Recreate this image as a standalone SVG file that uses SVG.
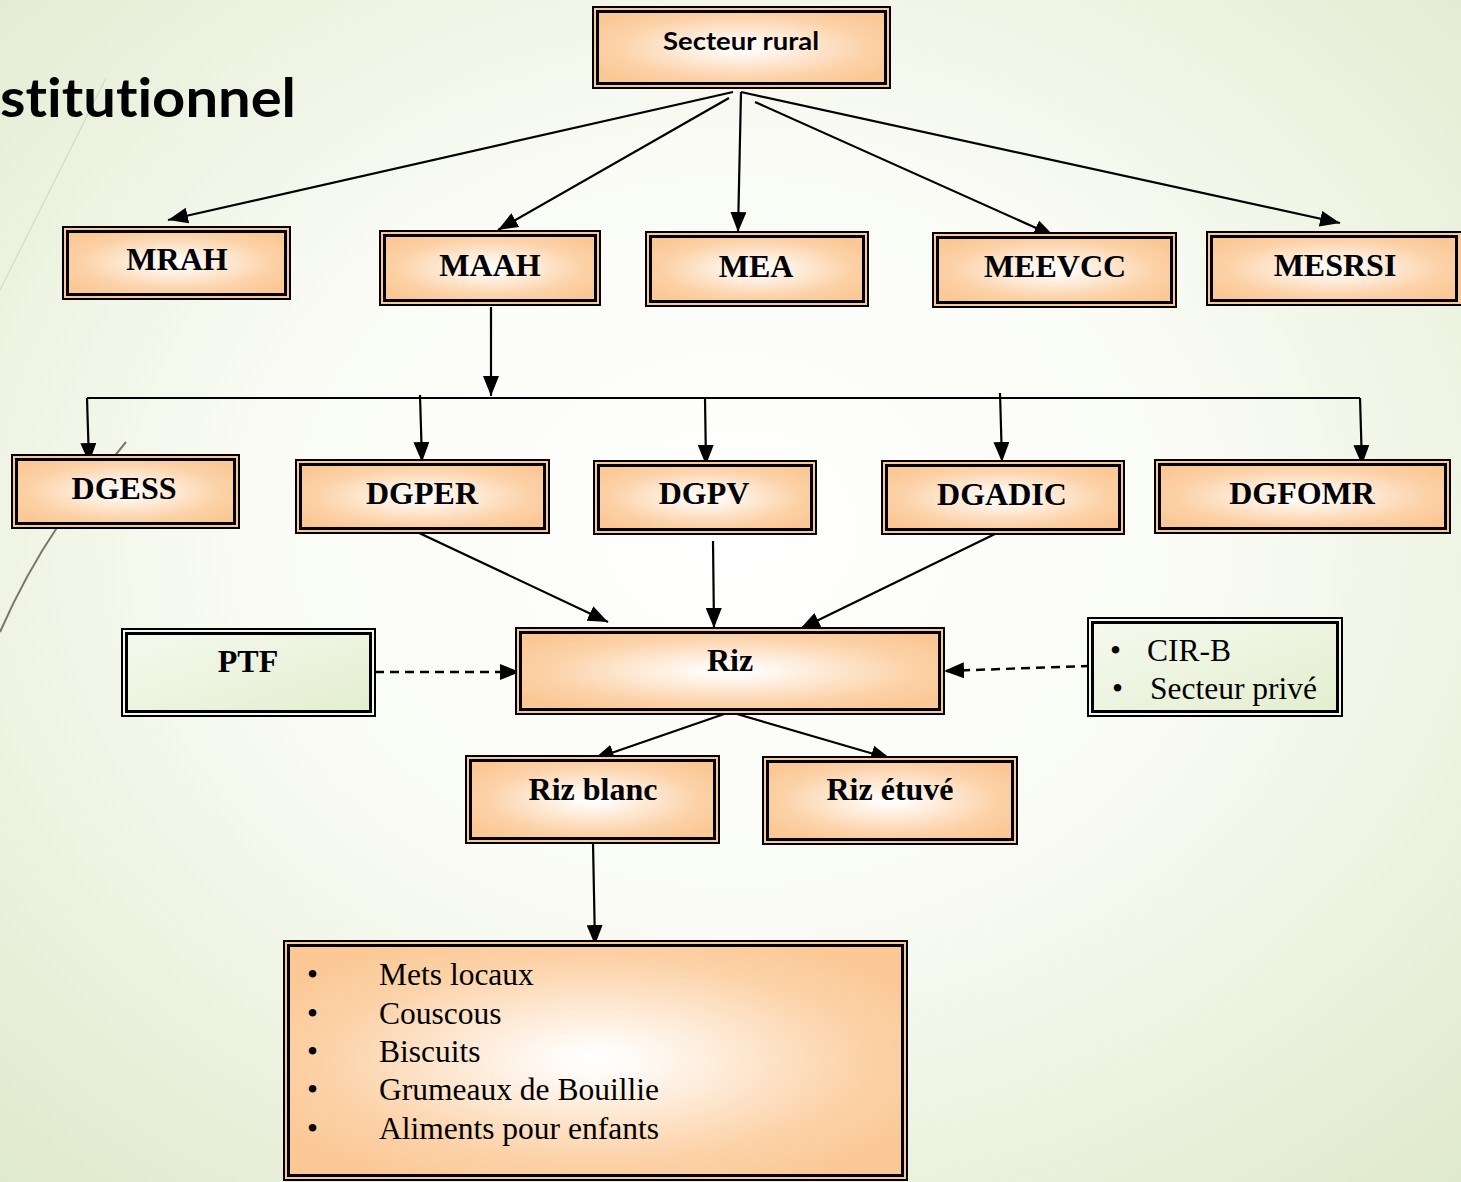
<svg xmlns="http://www.w3.org/2000/svg" width="1461" height="1182" viewBox="0 0 1461 1182">
<defs>
<radialGradient id="bg" cx="0.5" cy="0.45" r="0.75">
<stop offset="0" stop-color="#ffffff"/>
<stop offset="0.45" stop-color="#f9fbf4"/>
<stop offset="1" stop-color="#dfe9cb"/>
</radialGradient>
<radialGradient id="pg" cx="0.5" cy="0.5" r="0.62">
<stop offset="0" stop-color="#ffffff"/>
<stop offset="0.12" stop-color="#fffaf5"/>
<stop offset="0.7" stop-color="#fcd2a8"/>
<stop offset="1" stop-color="#fbc794"/>
</radialGradient>
<linearGradient id="gg" x1="0" y1="0" x2="1" y2="1">
<stop offset="0" stop-color="#f5f9ee"/>
<stop offset="1" stop-color="#e3eecf"/>
</linearGradient>
<marker id="ah" viewBox="0 0 20 16" refX="20" refY="8" markerWidth="20" markerHeight="16" markerUnits="userSpaceOnUse" orient="auto">
<path d="M0,0 L20,8 L0,16 z" fill="#000"/>
</marker>
<style>
.o{fill:#fbc794;stroke:#000;stroke-width:2}
.i{fill:url(#pg);stroke:#000;stroke-width:3}
.og{fill:#f4f8ec;stroke:#000;stroke-width:2}
.ig{fill:url(#gg);stroke:#000;stroke-width:3}
.c{fill:none;stroke:#000;stroke-width:2.2;marker-end:url(#ah)}
.d{fill:none;stroke:#000;stroke-width:2.5;stroke-dasharray:9 6;marker-end:url(#ah)}
.tb{font-family:"Liberation Serif","Times New Roman",serif;font-weight:bold;font-size:32px;text-anchor:middle;fill:#000}
.tr{font-family:"Liberation Serif","Times New Roman",serif;font-size:31.5px;fill:#000}
.sans{font-family:Lato,"Open Sans",sans-serif;font-weight:bold;font-variant-ligatures:none;fill:#000}
</style>
</defs>
<rect x="0" y="0" width="1461" height="1182" fill="url(#bg)"/>
<g id="decor" fill="none">
<line x1="0" y1="290" x2="106" y2="78" stroke="#d6d9cc" stroke-width="1.2"/>
<path d="M126,442 L58,526 Q25,575 0,632" stroke="#7c7765" stroke-width="2"/>
</g>
<text id="title" class="sans" x="0" y="117" font-size="54" textLength="296" lengthAdjust="spacingAndGlyphs">stitutionnel</text>

<g id="connectors">
<path class="c" d="M733,92 L168,220"/>
<path class="c" d="M729,98 L498,230"/>
<path class="c" d="M741,92 L738,232"/>
<path class="c" d="M755,102 L1054,236"/>
<path class="c" d="M741,92 L1340,223"/>
<path class="c" d="M491,307 L491,396"/>
<path d="M87,398 L1360,398" fill="none" stroke="#000" stroke-width="1.8"/>
<path class="c" d="M87,398 L89,463"/>
<path class="c" d="M420,395 L422,462"/>
<path class="c" d="M705,398 L706,465"/>
<path class="c" d="M1000,393 L1002,462"/>
<path class="c" d="M1360,398 L1362,465"/>
<path class="c" d="M417,532 L608,622"/>
<path class="c" d="M713,541 L714,628"/>
<path class="c" d="M999,532 L800,629"/>
<path class="d" d="M375,672 L520,672"/>
<path class="d" d="M1090,666 L944,671"/>
<path class="c" d="M730,712 L594,759"/>
<path class="c" d="M730,712 L891,759"/>
<path class="c" d="M593,843 L595,945"/>
</g>

<g id="secteur-rural">
<rect class="o" x="593" y="7" width="297" height="81"/>
<rect class="i" x="597.5" y="11.5" width="288" height="72"/>
<text class="sans" x="741" y="50" font-size="25" text-anchor="middle" textLength="156" lengthAdjust="spacingAndGlyphs">Secteur rural</text>
</g>
<g id="mrah">
<rect class="o" x="63" y="227" width="227" height="72"/>
<rect class="i" x="67.5" y="231.5" width="218" height="63"/>
<text class="tb" x="177" y="270">MRAH</text>
</g>
<g id="maah">
<rect class="o" x="380" y="231" width="220" height="74"/>
<rect class="i" x="384.5" y="235.5" width="211" height="65"/>
<text class="tb" x="490" y="276">MAAH</text>
</g>
<g id="mea">
<rect class="o" x="646" y="232" width="222" height="74"/>
<rect class="i" x="650.5" y="236.5" width="213" height="65"/>
<text class="tb" x="756" y="277">MEA</text>
</g>
<g id="meevcc">
<rect class="o" x="933" y="233" width="243" height="74"/>
<rect class="i" x="937.5" y="237.5" width="234" height="65"/>
<text class="tb" x="1055" y="277">MEEVCC</text>
</g>
<g id="mesrsi">
<rect class="o" x="1207" y="232" width="258" height="73"/>
<rect class="i" x="1211.5" y="236.5" width="245" height="64"/>
<text class="tb" x="1335" y="276">MESRSI</text>
</g>

<g id="dgess">
<rect class="o" x="12" y="455" width="227" height="73"/>
<rect class="i" x="16.5" y="459.5" width="218" height="64"/>
<text class="tb" x="124" y="499">DGESS</text>
</g>
<g id="dgper">
<rect class="o" x="296" y="460" width="253" height="73"/>
<rect class="i" x="300.5" y="464.5" width="244" height="64"/>
<text class="tb" x="422" y="504">DGPER</text>
</g>
<g id="dgpv">
<rect class="o" x="594" y="461" width="222" height="73"/>
<rect class="i" x="598.5" y="465.5" width="213" height="64"/>
<text class="tb" x="704" y="504">DGPV</text>
</g>
<g id="dgadic">
<rect class="o" x="882" y="461" width="242" height="73"/>
<rect class="i" x="886.5" y="465.5" width="233" height="64"/>
<text class="tb" x="1002" y="505">DGADIC</text>
</g>
<g id="dgfomr">
<rect class="o" x="1155" y="460" width="295" height="73"/>
<rect class="i" x="1159.5" y="464.5" width="286" height="64"/>
<text class="tb" x="1302" y="504">DGFOMR</text>
</g>

<g id="ptf">
<rect class="og" x="122" y="629" width="253" height="87"/>
<rect class="ig" x="126.5" y="633.5" width="244" height="78"/>
<text class="tb" x="248" y="672">PTF</text>
</g>
<g id="riz">
<rect class="o" x="516" y="628" width="428" height="86"/>
<rect class="i" x="520.5" y="632.5" width="419" height="77"/>
<text class="tb" x="730" y="671">Riz</text>
</g>
<g id="cirb">
<rect class="og" x="1088" y="618" width="254" height="98"/>
<rect class="ig" x="1092.5" y="622.5" width="245" height="89"/>
<text class="tr" x="1110" y="661">•</text>
<text class="tr" x="1147" y="661">CIR-B</text>
<text class="tr" x="1112" y="699">•</text>
<text class="tr" x="1150" y="699">Secteur privé</text>
</g>

<g id="riz-blanc">
<rect class="o" x="466" y="756" width="253" height="87"/>
<rect class="i" x="470.5" y="760.5" width="244" height="78"/>
<text class="tb" x="593" y="800">Riz blanc</text>
</g>
<g id="riz-etuve">
<rect class="o" x="763" y="757" width="254" height="87"/>
<rect class="i" x="767.5" y="761.5" width="245" height="78"/>
<text class="tb" x="890" y="800">Riz étuvé</text>
</g>

<g id="produits">
<rect class="o" x="284" y="941" width="623" height="239"/>
<rect class="i" x="288.5" y="945.5" width="614" height="230"/>
<text class="tr" x="307" y="985">•</text>
<text class="tr" x="379" y="985">Mets locaux</text>
<text class="tr" x="307" y="1024">•</text>
<text class="tr" x="379" y="1024">Couscous</text>
<text class="tr" x="307" y="1062">•</text>
<text class="tr" x="379" y="1062">Biscuits</text>
<text class="tr" x="307" y="1100">•</text>
<text class="tr" x="379" y="1100">Grumeaux de Bouillie</text>
<text class="tr" x="307" y="1139">•</text>
<text class="tr" x="379" y="1139">Aliments pour enfants</text>
</g>
</svg>
